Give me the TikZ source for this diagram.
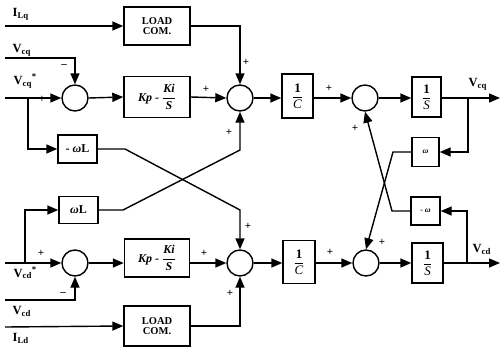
\documentclass[tikz,border=0pt]{standalone}
\usepackage{fontspec}
\setmainfont{Liberation Serif}
\usetikzlibrary{arrows.meta}
\begin{document}
\begin{tikzpicture}[x=1pt,y=-1pt,
  line width=1.4pt,
  arr/.style={-{Triangle[length=11pt,width=9pt]}},
  blk/.style={draw, line width=1.4pt, inner sep=0pt, align=center},
  sumc/.style={draw, circle, minimum size=26pt, inner sep=0pt, line width=1.4pt},
  lbl/.style={font=\bfseries\fontsize{12.5}{13}\selectfont, inner sep=0pt},
  sgn/.style={font=\bfseries\fontsize{11}{11}\selectfont, inner sep=0pt},
  lc/.style={font=\bfseries\fontsize{10.5}{10}\selectfont},
  fr/.style={font=\fontsize{13}{14}\selectfont},
  kp/.style={font=\bfseries\itshape\fontsize{12}{13}\selectfont}]
\useasboundingbox (0,0) rectangle (501,348);

% ---- q axis (top) ----
\node[blk, minimum width=66pt, minimum height=38pt, lc] (lcq) at (157,26) {LOAD\\COM.};
\node[sumc] (s1q) at (75,98) {};
\node[blk, minimum width=66pt, minimum height=41pt, kp] (kpq) at (157,97)
  {Kp - ${\displaystyle\frac{\mbox{\bfseries\itshape Ki}}{\mbox{\bfseries\itshape S}}}$};
\node[sumc] (s2q) at (240,98) {};
\node[blk, minimum width=31pt, minimum height=44pt, fr] (cq) at (297.5,96)
  {${\displaystyle\frac{\mbox{\bfseries 1}}{\mbox{\itshape C}}}$};
\node[sumc] (s3q) at (365,98) {};
\node[blk, minimum width=29pt, minimum height=40pt, fr] (sq) at (426.5,97)
  {${\displaystyle\frac{\mbox{\bfseries 1}}{\mbox{\itshape S}}}$};
\coordinate (oq) at (500,98);
\coordinate (tq) at (468,98);
\node[blk, minimum width=27pt, minimum height=29pt, font=\bfseries\itshape\fontsize{8}{8}\selectfont] (wq) at (425.5,152) {ω};

% ---- cross coupling boxes ----
\node[blk, minimum width=39pt, minimum height=28pt, font=\bfseries\fontsize{12}{12}\selectfont] (mwl) at (77.5,149) {- \textit{ω}L};
\node[blk, minimum width=39pt, minimum height=27pt, font=\bfseries\fontsize{12}{12}\selectfont] (wl) at (78.5,210) {\textit{ω}L};

% ---- d axis (bottom) ----
\node[sumc] (s1d) at (75,263) {};
\node[blk, minimum width=65pt, minimum height=38pt, kp] (kpd) at (157,258)
  {Kp - ${\displaystyle\frac{\mbox{\bfseries\itshape Ki}}{\mbox{\bfseries\itshape S}}}$};
\node[sumc] (s2d) at (240,263) {};
\node[blk, minimum width=32pt, minimum height=43pt, fr] (cd) at (299,262)
  {${\displaystyle\frac{\mbox{\bfseries 1}}{\mbox{\itshape C}}}$};
\node[sumc] (s3d) at (366,263) {};
\node[blk, minimum width=31pt, minimum height=40pt, fr] (sd) at (427.5,263)
  {${\displaystyle\frac{\mbox{\bfseries 1}}{\mbox{\itshape S}}}$};
\coordinate (od) at (500,263);
\coordinate (td) at (467,263);
\node[blk, minimum width=29pt, minimum height=28pt, font=\bfseries\itshape\fontsize{8}{8}\selectfont] (mwq) at (425.5,211) {- ω};
\node[blk, minimum width=66pt, minimum height=40pt, lc] (lcd) at (157,326) {LOAD\\COM.};

% ---- input coordinates ----
\coordinate (iLq) at (5,26);
\coordinate (vcq) at (5,58);
\coordinate (vcqs) at (5,98);
\coordinate (bq) at (28,98);
\coordinate (vcds) at (5,263);
\coordinate (bd) at (25,263);
\coordinate (vcd) at (5,300);
\coordinate (iLd) at (5,327);

% ---- q connections ----
\draw[arr] (iLq) -- (lcq.west);
\draw[arr] (lcq.east) -| (s2q.north);
\draw[arr] (vcq) -| (s1q.north);
\draw[arr] (vcqs) -- (s1q.west);
\draw[arr] (bq) |- (mwl.west);
\draw[arr] (s1q.east) -- (kpq.west);
\draw[arr] (kpq.east) -- (s2q.west);
\draw[arr] (s2q.east) -- (cq.west |- s2q.east);
\draw[arr] (cq.east |- s3q.west) -- (s3q.west);
\draw[arr] (s3q.east) -- (sq.west |- s3q.east);
\draw[arr] (sq.east |- oq) -- (oq);
\draw[arr] (tq) |- (wq.east);

% ---- d connections ----
\draw[arr] (vcds) -- (s1d.west);
\draw[arr] (bd) |- (wl.west);
\draw[arr] (vcd) -| (s1d.south);
\draw[arr] (iLd) -- (lcd.west);
\draw[arr] (lcd.east) -| (s2d.south);
\draw[arr] (s1d.east) -- (kpd.west |- s1d.east);
\draw[arr] (kpd.east |- s2d.west) -- (s2d.west);
\draw[arr] (s2d.east) -- (cd.west |- s2d.east);
\draw[arr] (cd.east |- s3d.west) -- (s3d.west);
\draw[arr] (s3d.east) -- (sd.west |- s3d.east);
\draw[arr] (sd.east |- od) -- (od);
\draw[arr] (td) |- (mwq.east);

% ---- cross couplings ----
\draw[arr] (mwl.east) -- (125,149) -- (240,210) -- (s2d.north);
\draw[arr] (wl.east) -- (123,210) -- (240,150) -- (s2q.south);
\draw[arr] (wq.west) -- (393,152) -- (s3d.north);
\draw[arr] (mwq.west) -- (392,211) -- (s3q.south);

% ---- labels ----
\node[lbl, anchor=west] (tILq) at (12,14) {I\textsubscript{Lq}};
\node[lbl, anchor=west] (tVcq) at (12,50) {V\textsubscript{cq}};
\node[lbl, anchor=west] (tVcqs) at (13,81) {V\textsubscript{cq}\textsuperscript{*}};
\node[lbl, anchor=west] (tVcqo) at (468,84) {V\textsubscript{cq}};
\node[lbl, anchor=west] (tVcds) at (13,273) {V\textsubscript{cd}\textsuperscript{*}};
\node[lbl, anchor=west] (tVcd) at (12,311) {V\textsubscript{cd}};
\node[lbl, anchor=west] (tILd) at (12,338) {I\textsubscript{Ld}};
\node[lbl, anchor=west] (tVcdo) at (472,249) {V\textsubscript{cd}};

% ---- signs ----
\node[sgn] at (64,66) {--};
\node[sgn] at (42,99) {+};
\node[sgn] at (206,89) {+};
\node[sgn] at (246,62) {+};
\node[sgn] at (229,132) {+};
\node[sgn] at (329,88) {+};
\node[sgn] at (355,128) {+};
\node[sgn] at (41,253) {+};
\node[sgn] at (63,294) {--};
\node[sgn] at (204,253) {+};
\node[sgn] at (230,293) {+};
\node[sgn] at (248,226) {+};
\node[sgn] at (330,252) {+};
\node[sgn] at (382,242) {+};
\end{tikzpicture}
\end{document}
